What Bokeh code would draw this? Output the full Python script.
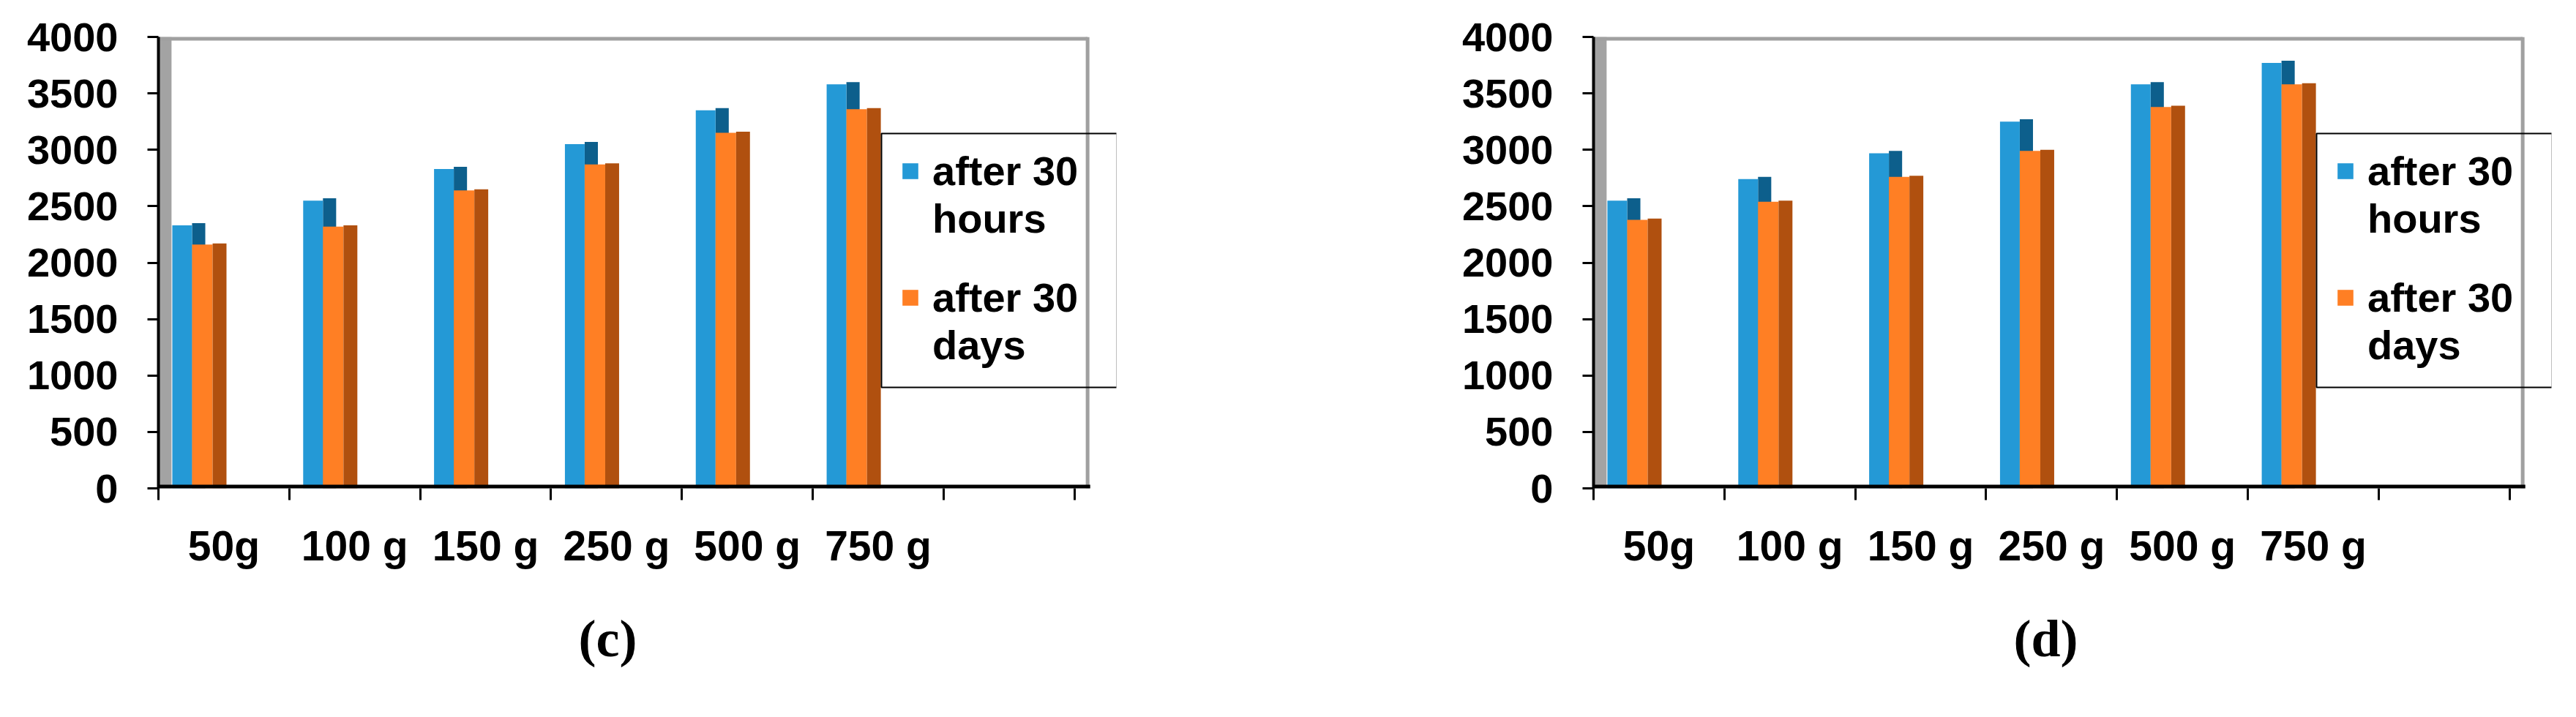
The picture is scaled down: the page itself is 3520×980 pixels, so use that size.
import numpy as np
from bokeh.plotting import figure
from bokeh.layouts import row
from bokeh.models import (ColumnDataSource, FixedTicker, Legend, LegendItem,
                          BoxAnnotation, Range1d, Title)
from bokeh.embed import file_html
from bokeh.resources import INLINE

# ---------------- data ----------------
categories = ["50g", "100 g", "150 g", "250 g", "500 g", "750 g"]
y_ticks = [0, 500, 1000, 1500, 2000, 2500, 3000, 3500, 4000]
# legend text, one entry per series, split over two lines
series_labels = [("after 30", "hours"), ("after 30", "days")]

c_hours = [2330, 2550, 2830, 3050, 3350, 3580]
c_days = [2160, 2320, 2640, 2870, 3150, 3360]

d_hours = [2550, 2740, 2970, 3250, 3580, 3770]
d_days = [2380, 2540, 2760, 2990, 3380, 3580]

panel_letters = ["c", "d"]

# ---------------- style ----------------
BLUE = "#2499D6"
BLUE_SIDE = "#0D5F8C"
ORANGE = "#FF7F24"
ORANGE_SIDE = "#B0500F"
WALL = "#A3A3A3"
BORDER = "#A0A0A0"
FONT = "Liberation Sans"
N_SLOTS = 7
X_END = 7.32
FRAME_W = 1309
FRAME_H = 617
Y_MAX = 4000
PX_PER_UNIT = FRAME_W / X_END
FIG_W = 1752
MAIN_H = 964


def px_to_y(px_from_bottom):
    return px_from_bottom / FRAME_H * Y_MAX


def style_legend(lg):
    lg.glyph_width = 27
    lg.glyph_height = 27
    lg.label_standoff = 17
    lg.label_text_font = FONT
    lg.label_text_font_style = "bold"
    lg.label_text_font_size = "56px"
    lg.label_text_color = "black"
    lg.padding = 0
    lg.spacing = 0
    lg.margin = 0
    lg.border_line_color = None
    lg.background_fill_alpha = 0


def make_chart(hours, days, border_left, letter):
    border_right = FIG_W - border_left - FRAME_W
    p = figure(width=FIG_W, height=MAIN_H,
               x_range=Range1d(0, X_END), y_range=Range1d(0, Y_MAX),
               output_backend="svg", toolbar_location=None,
               min_border_left=border_left, min_border_right=border_right,
               min_border_top=50, min_border_bottom=MAIN_H - 50 - FRAME_H)

    idx = np.arange(len(categories))
    hours = np.array(hours, dtype=float)
    days = np.array(days, dtype=float)
    src = ColumnDataSource(dict(
        bf_l=idx + 0.106, bf_r=idx + 0.257,
        bs_l=idx + 0.257, bs_r=idx + 0.358,
        of_l=idx + 0.257, of_r=idx + 0.414,
        os_l=idx + 0.414, os_r=idx + 0.52,
        hours=hours, days=days,
        hours_side=hours + 20, days_side=days + 10,
    ))

    # chart walls (3D look)
    p.quad(left=[0], right=[0.1], bottom=[0], top=[Y_MAX],
           fill_color=WALL, line_color=None)
    p.segment(x0=[0], y0=[Y_MAX], x1=[N_SLOTS + 0.1], y1=[Y_MAX],
              line_color=BORDER, line_width=10)
    p.segment(x0=[N_SLOTS + 0.1], y0=[0], x1=[N_SLOTS + 0.1], y1=[Y_MAX],
              line_color=BORDER, line_width=5)

    p.quad(left="bs_l", right="bs_r", bottom=0, top="hours_side", source=src,
           fill_color=BLUE_SIDE, line_color=None)
    r_blue = p.quad(left="bf_l", right="bf_r", bottom=0, top="hours", source=src,
                    fill_color=BLUE, line_color=None)
    r_orange = p.quad(left="of_l", right="of_r", bottom=0, top="days", source=src,
                      fill_color=ORANGE, line_color=None)
    p.quad(left="os_l", right="os_r", bottom=0, top="days_side", source=src,
           fill_color=ORANGE_SIDE, line_color=None)
    # empty renderer used for the second line of each legend entry
    r_none = p.quad(left=[], right=[], bottom=[], top=[],
                    fill_alpha=0, line_alpha=0)

    # x axis base line (drawn as glyph so it stops at the back wall)
    p.segment(x0=[0], y0=[0], x1=[N_SLOTS + 0.12], y1=[0],
              line_color="black", line_width=10)

    p.xgrid.visible = False
    p.ygrid.visible = False
    p.outline_line_color = None

    yax = p.yaxis[0]
    yax.ticker = FixedTicker(ticks=y_ticks)
    yax.axis_line_width = 4
    yax.axis_line_color = "black"
    yax.major_tick_out = 15
    yax.major_tick_in = 0
    yax.major_tick_line_width = 3
    yax.minor_tick_line_color = None
    yax.major_label_standoff = 40
    yax.major_label_text_font = FONT
    yax.major_label_text_font_style = "bold"
    yax.major_label_text_font_size = "56px"
    yax.major_label_text_color = "black"

    xax = p.xaxis[0]
    centers = [i + 0.5 for i in range(len(categories))]
    xax.ticker = FixedTicker(ticks=centers, minor_ticks=list(range(N_SLOTS + 1)))
    xax.major_label_overrides = {c: lab for c, lab in zip(centers, categories)}
    xax.axis_line_color = None
    xax.major_tick_out = 0
    xax.major_tick_in = 0
    xax.minor_tick_out = 16
    xax.minor_tick_in = 0
    xax.minor_tick_line_width = 3
    xax.minor_tick_line_color = "black"
    xax.major_label_standoff = 30
    xax.major_label_text_font = FONT
    xax.major_label_text_font_style = "bold"
    xax.major_label_text_font_size = "57px"
    xax.major_label_text_color = "black"

    # legend: one block per series, box drawn around both
    (h1, h2), (d1, d2) = series_labels
    lg_a = Legend(items=[LegendItem(label=h1, renderers=[r_blue]),
                         LegendItem(label=h2, renderers=[r_none])],
                  location=(1014, 336))
    lg_b = Legend(items=[LegendItem(label=d1, renderers=[r_orange]),
                         LegendItem(label=d2, renderers=[r_none])],
                  location=(1014, 163))
    for lg in (lg_a, lg_b):
        style_legend(lg)
        p.add_layout(lg, "center")
    p.add_layout(BoxAnnotation(left=988 / PX_PER_UNIT, right=1310 / PX_PER_UNIT,
                               bottom=px_to_y(138), top=px_to_y(485),
                               fill_alpha=0, line_color="black", line_width=2,
                               line_alpha=1))

    # panel caption below the chart
    p.add_layout(Title(text="(" + letter + ")", align="left", offset=574,
                       standoff=100, text_font="Liberation Serif",
                       text_font_style="bold", text_font_size="72px",
                       text_color="black"), "below")
    return p


p1 = make_chart(c_hours, c_days, 216, panel_letters[0])
p2 = make_chart(d_hours, d_days, 425, panel_letters[1])

layout = row(p1, p2)
open("out.html", "w").write(file_html(layout, INLINE))
